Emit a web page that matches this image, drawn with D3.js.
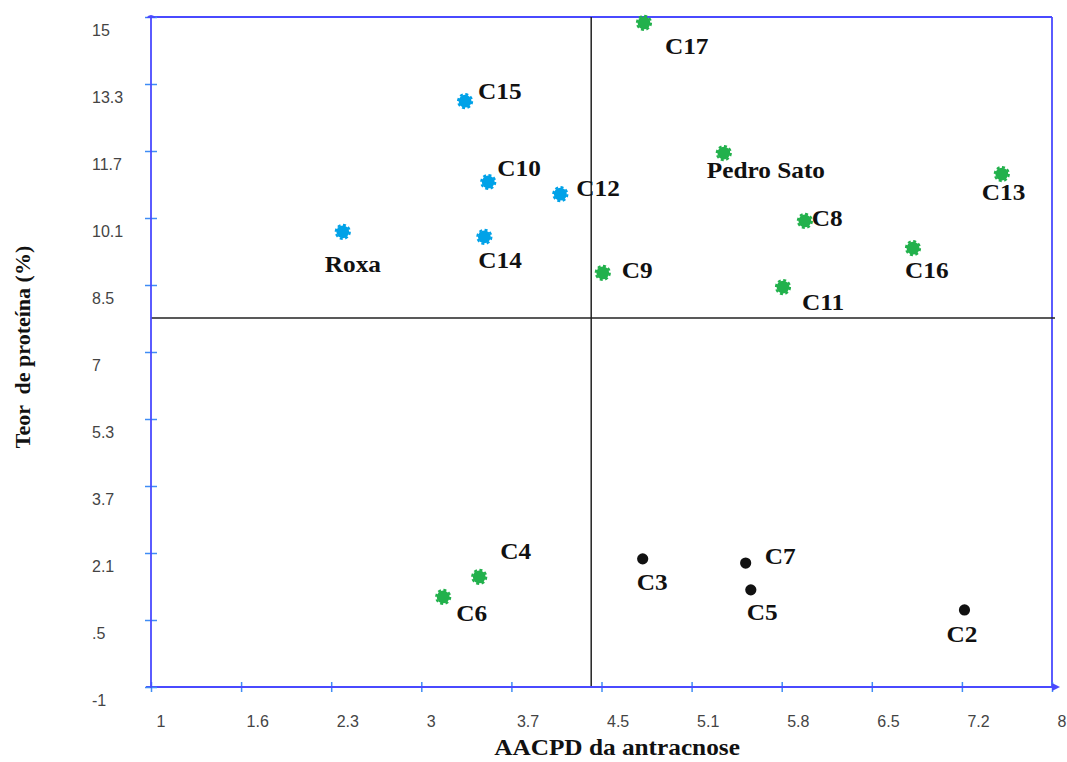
<!DOCTYPE html>
<html>
<head>
<meta charset="utf-8">
<script src="https://cdn.jsdelivr.net/npm/d3@7"></script>
<style>
  html, body { margin: 0; padding: 0; background: #fff; }
  svg { display: block; }
</style>
</head>
<body>
<svg id="chart" width="1067" height="762"></svg>
<script>
// Genotypes: name, AACPD (x), protein content % (y), group
const names   = ["C17", "C15", "C10", "C12", "Roxa", "C14", "C9", "Pedro Sato", "C8", "C13", "C16", "C11", "C4", "C6", "C3", "C7", "C5", "C2"];
const aacpd   = [4.83, 3.44, 3.62, 4.18, 2.49, 3.59, 4.51, 5.45, 6.08, 7.61, 6.92, 5.91, 3.55, 3.27, 4.82, 5.62, 5.66, 7.32];
const protein = [14.86, 12.99, 11.06, 10.77, 9.87, 9.75, 8.89, 11.75, 10.13, 11.25, 9.48, 8.55, 1.63, 1.15, 2.06, 1.96, 1.32, 0.84];
const groups  = ["g", "b", "b", "b", "b", "b", "g", "g", "g", "g", "g", "g", "g", "g", "k", "k", "k", "k"];

// Axis ticks (evenly spaced) and their printed labels
const xTickValues = [1, 1.7, 2.4, 3.1, 3.8, 4.5, 5.2, 5.9, 6.6, 7.3, 8];
const xTickLabels = ["1", "1.6", "2.3", "3", "3.7", "4.5", "5.1", "5.8", "6.5", "7.2", "8"];
const yTickValues = [-1, 0.6, 2.2, 3.8, 5.4, 7, 8.6, 10.2, 11.8, 13.4, 15];
const yTickLabels = ["-1", ".5", "2.1", "3.7", "5.3", "7", "8.5", "10.1", "11.7", "13.3", "15"];

// Quadrant dividers (means)
const meanX = 4.42;
const meanY = 7.81;

// Label placement relative to each marker [dx, dy of baseline]
const labelPlacement = {
  "C17": [21, 31], "C15": [13, -2], "C10": [9, -6],
  "C12": [16, 2], "Roxa": [-18, 40], "C14": [-6, 31],
  "C9": [19, 5], "Pedro Sato": [-17, 25], "C8": [7, 5],
  "C13": [-20, 26], "C16": [-8, 30], "C11": [19, 23],
  "C4": [21, -18], "C6": [13, 24], "C3": [-6, 31],
  "C7": [19, 1], "C5": [-4, 30], "C2": [-18, 32]
};

const colors = { b: "#00a2e8", g: "#22b14c", k: "#111111" };
const axisBlue = "#4a4aff";
const tickBlue = "#3f8cf5";
const serif = "Liberation Serif, Times New Roman, serif";
const sans = "Liberation Sans, Arial, sans-serif";
const stretch = 1.1; // horizontal widening of the bold serif labels

const svg = d3.select("#chart");
const plotLeft = 151, plotRight = 1052, plotTop = 17, plotBottom = 687;

const x = d3.scaleLinear().domain([1, 8]).range([plotLeft, plotRight]);
const y = d3.scaleLinear().domain([-1, 15]).range([plotBottom, plotTop]);

const data = names.map((n, i) => ({ name: n, x: aacpd[i], y: protein[i], g: groups[i] }));

// Frame (top and right edges)
svg.append("line").attr("x1", plotLeft).attr("x2", plotRight).attr("y1", plotTop).attr("y2", plotTop)
  .attr("stroke", axisBlue).attr("stroke-width", 1.8);
svg.append("line").attr("x1", plotRight).attr("x2", plotRight).attr("y1", plotTop).attr("y2", plotBottom)
  .attr("stroke", axisBlue).attr("stroke-width", 1.8);

// Quadrant lines
svg.append("line").attr("x1", x(meanX)).attr("x2", x(meanX)).attr("y1", plotTop).attr("y2", plotBottom)
  .attr("stroke", "#222").attr("stroke-width", 1.5);
svg.append("line").attr("x1", plotLeft).attr("x2", plotRight + 3).attr("y1", y(meanY)).attr("y2", y(meanY))
  .attr("stroke", "#222").attr("stroke-width", 1.5);

// X axis
const xAxis = d3.axisBottom(x).tickValues(xTickValues).tickSize(0).tickFormat((d, i) => xTickLabels[i]);
const gx = svg.append("g").attr("transform", `translate(0,${plotBottom})`).call(xAxis);
gx.select(".domain").remove();
gx.selectAll(".tick text")
  .attr("text-anchor", "start").attr("x", 5).attr("y", 0).attr("dy", "40")
  .attr("font-family", sans).attr("font-size", 16).attr("fill", "#444");
gx.selectAll(".tick").append("line").attr("y1", -5).attr("y2", 5)
  .attr("stroke", tickBlue).attr("stroke-width", 1.5);
svg.append("line").attr("x1", plotLeft - 5).attr("x2", plotRight + 2).attr("y1", plotBottom).attr("y2", plotBottom)
  .attr("stroke", axisBlue).attr("stroke-width", 1.8);
svg.append("path").attr("d", `M${plotRight + 8},${plotBottom} L${plotRight},${plotBottom - 4} L${plotRight},${plotBottom + 4} Z`)
  .attr("fill", axisBlue);

// Y axis
const yAxis = d3.axisLeft(y).tickValues(yTickValues).tickSize(0).tickFormat((d, i) => yTickLabels[i]);
const gy = svg.append("g").attr("transform", `translate(${plotLeft},0)`).call(yAxis);
gy.select(".domain").remove();
gy.selectAll(".tick text")
  .attr("text-anchor", "start").attr("x", -59).attr("dy", "18")
  .attr("font-family", sans).attr("font-size", 16).attr("fill", "#444");
gy.selectAll(".tick").append("line").attr("x1", -6).attr("x2", 6)
  .attr("stroke", tickBlue).attr("stroke-width", 1.5);
svg.append("line").attr("x1", plotLeft).attr("x2", plotLeft).attr("y1", plotTop - 1).attr("y2", plotBottom + 1)
  .attr("stroke", axisBlue).attr("stroke-width", 1.8);
svg.append("path").attr("d", `M${plotLeft - 5},${plotTop + 1} Q${plotLeft},${plotTop - 5} ${plotLeft + 5},${plotTop + 1} Z`)
  .attr("fill", axisBlue);

// Markers
const pts = svg.append("g");
pts.selectAll("circle.core").data(data).enter().append("circle")
  .attr("class", "core")
  .attr("cx", d => x(d.x)).attr("cy", d => y(d.y))
  .attr("r", d => d.g === "k" ? 5.6 : 6.4)
  .attr("fill", d => colors[d.g]);
pts.selectAll("circle.rim").data(data.filter(d => d.g !== "k")).enter().append("circle")
  .attr("class", "rim")
  .attr("cx", d => x(d.x)).attr("cy", d => y(d.y))
  .attr("r", 7)
  .attr("fill", "none")
  .attr("stroke", d => colors[d.g]).attr("stroke-width", 2.2)
  .attr("stroke-dasharray", "3,2.5");

// Point labels
svg.append("g").selectAll("text").data(data).enter().append("text")
  .attr("transform", d => `translate(${x(d.x) + labelPlacement[d.name][0]},${y(d.y) + labelPlacement[d.name][1]}) scale(${stretch},1)`)
  .attr("font-family", serif)
  .attr("font-weight", "bold").attr("font-size", 23).attr("fill", "#111")
  .text(d => d.name);

// Axis titles
svg.append("text").attr("transform", `translate(617,755) scale(${stretch},1)`).attr("text-anchor", "middle")
  .attr("font-family", serif)
  .attr("font-weight", "bold").attr("font-size", 23).attr("fill", "#111")
  .text("AACPD da antracnose");
svg.append("text").attr("transform", "translate(30,347) rotate(-90)").attr("text-anchor", "middle")
  .attr("font-family", serif)
  .attr("font-weight", "bold").attr("font-size", 22).attr("fill", "#111")
  .style("white-space", "pre")
  .text("Teor  de proteína (%)");
</script>
</body>
</html>
